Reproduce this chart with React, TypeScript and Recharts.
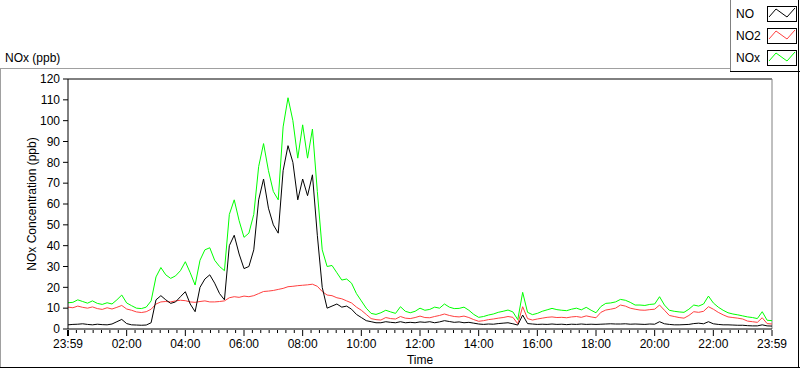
import React from 'react';
import { LineChart, Line, XAxis, YAxis, ReferenceLine } from 'recharts';

// readings every 10 minutes, starting 23:59
const noValues = [
  2.0, 2.2, 2.3, 2.5, 2.2, 2.0, 2.3, 2.1, 2.0, 2.4, 3.5, 4.6, 2.6, 2.0,
  1.9, 1.8, 1.9, 3.0, 14.0, 16.0,
  14.0, 12.3, 13.0, 15.5, 17.9, 12.0, 8.3, 20.0, 24.0, 26.0,
  22.0, 17.0, 14.0, 40.0, 45.0, 36.0, 29.0, 30.0, 38.0, 62.0,
  72.0, 58.0, 50.0, 46.0, 76.0, 88.0, 80.0, 62.0, 72.0, 64.0,
  74.0, 45.0, 20.0, 10.0, 11.0, 12.0, 10.5, 11.0, 9.5, 7.0,
  5.5, 4.0, 3.5, 3.0, 3.0, 3.5, 3.2, 3.0, 3.5, 3.0, 3.2, 3.0, 3.4,
  3.2, 3.5, 3.0, 3.4, 4.0, 3.6, 3.2, 3.4, 3.0, 3.2, 2.8, 2.4,
  2.2, 2.4, 2.3, 2.6, 2.8, 3.0, 2.5, 1.9, 6.7, 2.6, 2.4, 2.2,
  2.3, 2.2, 2.4, 2.2, 2.3, 2.1, 2.3, 2.2, 2.4, 2.2, 2.3, 2.2,
  2.3, 2.4, 2.5, 2.4, 2.4, 2.5, 2.3, 2.4, 2.3, 2.2, 2.4, 2.3,
  3.5, 2.5, 2.2, 2.0, 2.0, 2.1, 2.2, 2.6, 2.8, 2.5, 3.5, 2.5,
  2.2, 2.0, 2.0, 1.9, 1.8, 1.8, 1.6, 1.5, 1.5, 2.0, 1.5, 1.4,
];

const no2Values = [
  10.5, 10.2, 11.0, 10.4, 10.0, 10.6, 9.8, 9.4, 10.2, 9.6, 10.4, 11.3, 9.6, 9.0,
  8.2, 7.9, 8.3, 9.5, 12.0, 13.0,
  13.2, 13.0, 13.5, 13.8, 13.6, 13.0, 12.8, 13.2, 13.5, 13.0,
  13.0, 13.2, 13.5, 15.0, 15.5, 15.2, 15.8, 15.5, 16.0, 17.0,
  18.0, 18.2, 18.5, 19.0, 19.5, 20.3, 20.5, 20.8, 21.0, 21.2,
  21.5, 20.5, 18.0, 16.3, 16.0, 15.0, 14.5, 13.5, 12.5, 10.5,
  9.0, 7.0, 5.0, 4.5, 4.3, 5.5, 5.0, 4.8, 6.0, 5.2, 5.0, 5.5, 6.2,
  5.5, 5.4, 6.0, 6.5, 7.2, 6.5, 6.0, 5.8, 6.2, 5.5, 4.5, 3.7,
  4.0, 4.5, 4.8, 5.2, 5.5, 6.0, 5.6, 2.5, 10.7, 5.0, 4.3, 4.8,
  5.2, 5.6, 5.8, 5.5, 5.6, 5.4, 5.8, 6.0, 5.6, 6.3, 5.8, 5.4,
  8.0, 9.1, 9.5, 10.0, 11.5, 11.0, 10.0, 9.5, 9.1, 9.0, 9.3, 9.5,
  11.5, 9.0, 6.5, 6.0, 5.5, 5.2, 6.5, 8.3, 8.0, 8.5, 10.7, 9.5,
  8.0, 6.8, 5.8, 5.5, 5.2, 4.8, 3.8, 3.5, 3.2, 5.4, 2.6, 2.4,
];

const noxValues = [
  12.6, 12.8, 14.0, 13.2, 12.4, 13.5, 12.3, 11.8, 12.6, 12.0, 14.0, 16.3, 12.5, 11.2,
  10.0, 9.8, 10.5, 13.5, 25.0, 29.5,
  26.0, 24.3, 25.5, 28.0, 32.3, 27.0, 21.1, 33.0, 38.0, 39.0,
  33.0, 30.0, 28.0, 55.0, 62.0, 52.0, 44.0, 46.0, 55.0, 78.0,
  89.0, 76.0, 66.0, 62.0, 97.0, 111.0, 100.0, 82.0, 98.0, 82.0,
  96.0, 66.0, 38.0, 30.0, 30.5, 27.0, 23.5, 24.0, 22.0, 17.0,
  13.5, 10.0, 7.5, 7.0, 7.8, 9.0, 8.2, 7.5, 10.7, 8.5, 7.8, 8.5, 10.0,
  9.0, 9.4, 10.5, 10.0, 12.0, 10.5, 9.8, 9.9, 10.5, 9.0, 7.0, 5.6,
  6.0, 6.7, 7.2, 8.0, 8.5, 9.1, 8.2, 4.5, 17.6, 8.0, 6.9, 7.5,
  8.5, 9.2, 9.9, 9.3, 9.0, 8.8, 9.5, 10.0, 9.2, 10.4, 9.0, 7.8,
  10.8, 12.3, 12.5, 13.0, 14.2, 13.8, 12.8, 11.5, 11.5, 11.3, 11.8, 12.0,
  15.5, 11.5, 9.0, 8.5, 8.2, 8.0, 9.5, 11.5, 11.0, 12.0, 15.8, 12.5,
  10.5, 9.0, 7.8, 7.2, 6.8, 6.3, 5.8, 5.5, 5.0, 8.3, 4.2, 4.0,
];

const timeLabels = ['23:59', '02:00', '04:00', '06:00', '08:00', '10:00', '12:00', '14:00', '16:00', '18:00', '20:00', '22:00', '23:59'];
const majorMinutes = [0, 120, 240, 360, 480, 600, 720, 840, 960, 1080, 1200, 1320, 1440];
const yTicks = [0, 10, 20, 30, 40, 50, 60, 70, 80, 90, 100, 110, 120];

const series = [
  { key: 'no', name: 'NO', color: '#000000' },
  { key: 'no2', name: 'NO2', color: '#ff4040' },
  { key: 'nox', name: 'NOx', color: '#00ff00' },
];

const data = noValues.map((v, i) => ({
  t: i * 10,
  no: v,
  no2: no2Values[i],
  nox: noxValues[i],
}));

// 7 minor divisions per 2h major step
const allTicks: number[] = [];
majorMinutes.forEach((m, i) => {
  allTicks.push(m);
  if (i < majorMinutes.length - 1) {
    for (let k = 1; k < 7; k++) allTicks.push(m + (120 * k) / 7);
  }
});

const FONT = '"Liberation Sans", Arial, sans-serif';

const TimeTick = (props: any) => {
  const { x, y, payload } = props;
  const idx = majorMinutes.indexOf(payload.value);
  if (idx < 0) {
    return <line x1={x} x2={x} y1={y + 1} y2={y + 4} stroke="#000" />;
  }
  return (
    <g>
      <line x1={x} x2={x} y1={y + 1} y2={y + 7} stroke="#000" strokeWidth={idx === 0 ? 2 : 1} />
      <text x={x} y={y + 19} textAnchor="middle" fontSize={12} fontFamily={FONT} fill="#000">
        {timeLabels[idx]}
      </text>
    </g>
  );
};

const YTitle = (props: any) => {
  const vb = props.viewBox || { y: 79, height: 250 };
  const cx = 32;
  const cy = vb.y + vb.height / 2;
  return (
    <text x={cx} y={cy} transform={`rotate(-90 ${cx} ${cy})`} textAnchor="middle" dominantBaseline="central"
      fontSize={12} fontFamily={FONT} fill="#000">
      NOx Concentration (ppb)
    </text>
  );
};

const XTitle = (props: any) => {
  const vb = props.viewBox || { x: 68, width: 704 };
  return (
    <text x={vb.x + vb.width / 2} y={364} textAnchor="middle" fontSize={12} fontFamily={FONT} fill="#000">
      Time
    </text>
  );
};

const LegendBox = () => (
  <svg width={70} height={72} style={{ display: 'block' }}>
    {series.map((s, i) => {
      const top = 6 + i * 22;
      return (
        <g key={s.key}>
          <text x={6} y={top + 12} fontSize={12} fontFamily={FONT} fill="#000">{s.name}</text>
          <rect x={37.5} y={top + 0.5} width={29} height={15} fill="#fff" stroke="#000" />
          <polyline
            points={`${39},${top + 11} ${46},${top + 3} ${57},${top + 11} ${65},${top + 2}`}
            fill="none" stroke={s.color} />
        </g>
      );
    })}
  </svg>
);

const App = () => {
  return (
    <div style={{ position: 'absolute', left: 0, top: 0, width: 800, height: 369, background: '#fff', overflow: 'hidden', fontFamily: FONT }}>
      <LineChart width={800} height={369} data={data} margin={{ top: 79, right: 28, bottom: 0, left: 0 }}>
        <XAxis
          dataKey="t"
          type="number"
          domain={[0, 1440]}
          ticks={allTicks}
          interval={0}
          tickSize={0}
          tickMargin={0}
          tickLine={false}
          tick={<TimeTick />}
          axisLine={{ stroke: '#000' }}
          height={40}
          label={<XTitle />}
        />
        <YAxis
          type="number"
          domain={[0, 120]}
          ticks={yTicks}
          interval={0}
          width={68}
          tickSize={5}
          tickMargin={3}
          tickLine={{ stroke: '#000' }}
          axisLine={{ stroke: '#000' }}
          tick={{ fontSize: 12, fontFamily: FONT, fill: '#000' }}
          label={<YTitle />}
        />
        <ReferenceLine y={120} stroke="#000" />
        <ReferenceLine x={1440} stroke="#808080" />
        {[...series].reverse().map((s) => (
          <Line key={s.key} type="linear" dataKey={s.key} name={s.name} stroke={s.color} strokeWidth={1}
            dot={false} isAnimationActive={false} />
        ))}
      </LineChart>
      <div style={{ position: 'absolute', left: 730, top: 0, width: 70, height: 72 }}>
        <LegendBox />
      </div>
      <svg width={800} height={369} style={{ position: 'absolute', left: 0, top: 0, pointerEvents: 'none' }}>
        <text x={5} y={62} fontSize={12} fontFamily={FONT} fill="#000">NOx (ppb)</text>
        <line x1={0} x2={730} y1={68.5} y2={68.5} stroke="#a0a0a0" />
        <line x1={0.5} x2={0.5} y1={68} y2={368} stroke="#a0a0a0" />
        <line x1={0} x2={800} y1={367.5} y2={367.5} stroke="#000" />
        <line x1={798.5} x2={798.5} y1={0} y2={368} stroke="#000" />
        <line x1={730.5} x2={730.5} y1={0} y2={72} stroke="#808080" />
        <line x1={730} x2={800} y1={71.5} y2={71.5} stroke="#000" />
      </svg>
    </div>
  );
};

export default App;
